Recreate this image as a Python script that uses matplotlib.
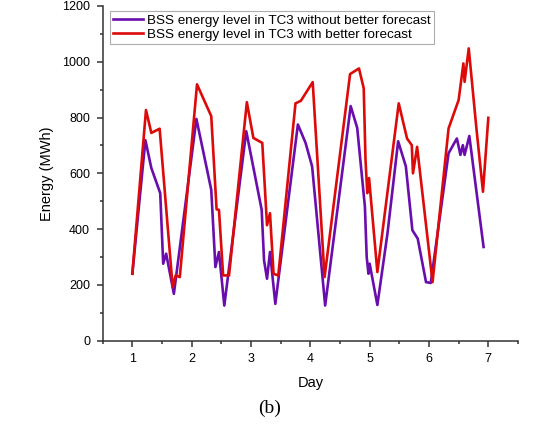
import matplotlib.pyplot as plt
from matplotlib.ticker import MultipleLocator

# BSS energy level in TC3
day_without = [1.00, 1.22, 1.32, 1.47, 1.52, 1.57, 1.70, 2.08, 2.33, 2.40, 2.46, 2.55,
               2.92, 3.18, 3.22, 3.27, 3.32, 3.41, 3.79, 3.92, 4.03, 4.25, 4.68, 4.79,
               4.92, 4.95, 4.98, 5.00, 5.13, 5.30, 5.48, 5.61, 5.72, 5.81, 5.95, 6.03,
               6.33, 6.47, 6.53, 6.57, 6.60, 6.68, 6.92]
energy_without = [240, 719, 619, 529, 276, 312, 168, 795, 541, 264, 318, 126,
                  751, 469, 288, 222, 318, 132, 775, 709, 625, 126, 841, 763,
                  480, 300, 240, 276, 128, 384, 715, 625, 396, 366, 210, 207,
                  672, 725, 666, 701, 666, 734, 336]

day_with = [1.00, 1.23, 1.32, 1.46, 1.57, 1.68, 1.73, 1.80, 2.09, 2.33, 2.42, 2.46,
            2.53, 2.63, 2.93, 3.04, 3.19, 3.27, 3.32, 3.38, 3.46, 3.75, 3.84, 4.04,
            4.24, 4.67, 4.82, 4.90, 4.93, 4.96, 4.99, 5.13, 5.49, 5.63, 5.71, 5.73,
            5.80, 6.06, 6.33, 6.50, 6.58, 6.60, 6.67, 6.80, 6.91, 7.00]
energy_with = [240, 827, 745, 760, 475, 192, 234, 228, 919, 805, 471, 469,
               234, 234, 855, 727, 709, 414, 457, 240, 234, 851, 860, 927,
               228, 956, 976, 905, 649, 529, 583, 246, 851, 725, 701, 600,
               695, 210, 761, 863, 994, 928, 1048, 760, 534, 799]

labels = ['BSS energy level in TC3 without better forecast',
          'BSS energy level in TC3 with better forecast']

plt.rcParams['font.family'] = ['Liberation Sans', 'DejaVu Sans']

fig = plt.figure(figsize=(5.39, 4.28), dpi=100)
ax = fig.add_axes([0.1905, 0.204, 0.7705, 0.782])

ax.plot(day_without, energy_without, color='#6a0dad', linewidth=1.9, label=labels[0])
ax.plot(day_with, energy_with, color='#dd0a0a', linewidth=1.9, label=labels[1])

ax.set_xlim(0.5, 7.5)
ax.set_ylim(0, 1200)
ax.xaxis.set_major_locator(MultipleLocator(1))
ax.xaxis.set_minor_locator(MultipleLocator(0.5))
ax.yaxis.set_major_locator(MultipleLocator(200))
ax.yaxis.set_minor_locator(MultipleLocator(100))

ax.spines['top'].set_visible(False)
ax.spines['right'].set_visible(False)
for side in ['left', 'bottom']:
    ax.spines[side].set_linewidth(1.1)
    ax.spines[side].set_color('#333333')
ax.tick_params(which='major', length=4, width=1.1, color='#333333', labelsize=9, pad=5)
ax.tick_params(which='minor', length=2.5, width=1.1, color='#333333')

ax.set_xlabel('Day', fontsize=10.5, labelpad=8)
ax.set_ylabel('Energy (MWh)', fontsize=10.5, labelpad=6)

leg = ax.legend(loc='upper left', bbox_to_anchor=(0.0176, 0.985), fontsize=9.7,
                frameon=True, fancybox=False, edgecolor='#999999',
                handlelength=2.2, handletextpad=0.3, borderpad=0.25,
                labelspacing=0.12, borderaxespad=0.0)
leg.get_frame().set_linewidth(0.8)

fig.text(0.5, 0.035, '(b)', ha='center', fontsize=14, family='Liberation Serif')

fig.savefig('out.png', dpi=100)
